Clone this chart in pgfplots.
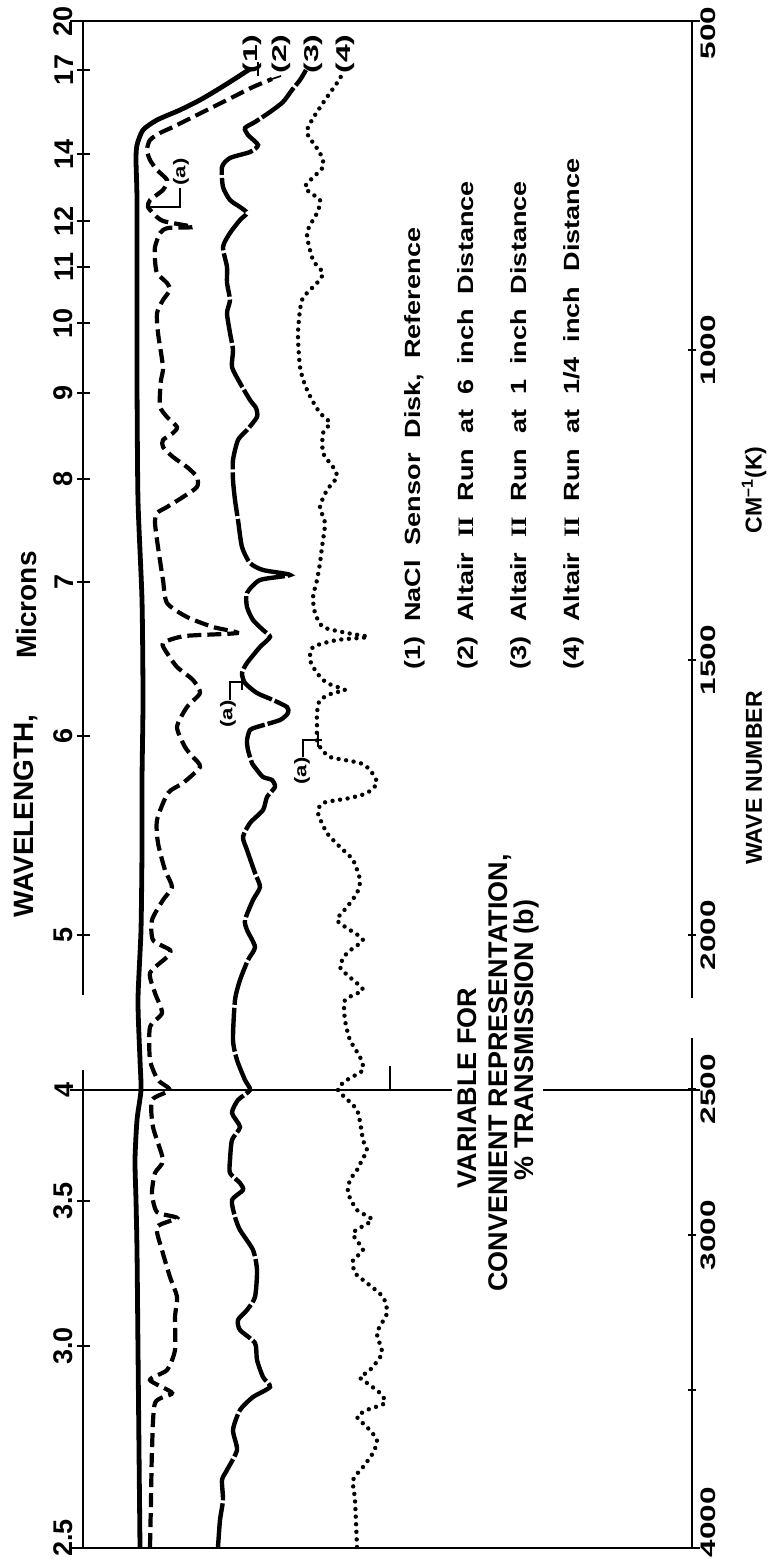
\documentclass[border=0pt]{standalone}
\usepackage{pgfplots}
\pgfplotsset{compat=1.18}
\usepackage{fontspec}
\setmainfont{Liberation Sans}
\newfontfamily\romanII{Liberation Serif}
\newcommand\wide[2][1.5]{\scalebox{#1}[1]{#2}}
\newcommand\II{{\romanII\bfseries II}}
\newcommand\lf[1]{\fontsize{#1}{#1}\selectfont\bfseries}
\begin{document}
\begin{tikzpicture}
% vertical coordinate = position along the (rotated) wavelength/wave-number scale
\pgfplotsset{base/.style={x=0.5pt,y=0.5pt,y dir=reverse,
  xmin=83,xmax=692,ymin=21,ymax=1548,clip=false,
  axis line style={draw=none},xtick=\empty,
  tick align=outside,major tick length=6.5pt,
  every tick/.style={black,line width=1pt}}}
\begin{axis}[base,axis x line=none,axis y line=left,
  ytick={21,70,154,221,267,323,393,479,582,736,935,1090,1201,1346,1548},
  yticklabels={20,17,14,12,11,10,9,8,7,6,5,4,3.5,3.0,\hspace*{10pt}2.5},
  yticklabel style={font=\lf{13.5},rotate=90,anchor=south,inner sep=1.5pt}]
% (1) NaCl reference
\addplot[black,line width=2.4pt,smooth,tension=0.4] table {
140 1547
139 1450
138 1350
137 1250
136 1200
135 1160
137 1120
141 1090
140 1060
138 1000
141 930
142 850
142 780
143 700
142 600
138 500
137 380
137 300
137 200
136 160
137 145
143 130
157 120
180 110
200 100
217 90
233 80
250 69
};
% (2) 6 inch
\addplot[black,line width=2.1pt,dash pattern=on 7pt off 3pt,smooth,tension=0.4] table {
150 1547
151 1500
152 1450
155 1403
172 1393
150 1380
167 1370
175 1350
175 1317
177 1297
170 1277
162 1250
157 1227
177 1218
157 1212
152 1193
155 1173
163 1160
153 1127
152 1100
170 1090
158 1080
150 1060
150 1027
162 1013
155 993
150 973
167 957
170 950
153 940
152 920
163 900
172 887
165 870
158 843
157 820
168 793
183 783
200 767
193 757
185 747
177 727
187 707
200 693
193 680
177 667
167 653
163 643
185 636
237 633
213 627
187 617
167 603
163 580
158 547
155 523
157 513
167 507
183 497
197 487
197 477
187 467
173 457
163 447
163 440
173 433
177 427
167 417
160 407
160 393
161 380
163 367
158 333
157 313
163 300
170 290
167 283
157 273
155 260
155 247
160 233
168 228
193 227
163 221
153 213
148 207
150 200
163 190
167 180
157 170
150 160
147 150
150 140
160 133
173 127
193 117
213 107
233 97
253 87
272 79
};
% (3) 1 inch
\addplot[black,line width=2.2pt,dash pattern=on 22pt off 1.5pt,smooth,tension=0.4] table {
218 1547
220 1520
223 1500
222 1480
227 1470
237 1450
233 1430
240 1410
253 1397
270 1387
263 1377
257 1360
255 1343
240 1330
238 1320
247 1310
255 1297
257 1270
253 1250
240 1230
235 1217
232 1200
243 1190
240 1183
230 1173
230 1160
232 1140
240 1127
232 1113
238 1100
250 1090
245 1080
237 1060
233 1040
235 1000
240 980
248 960
255 947
247 930
245 920
253 900
260 887
255 873
247 850
243 837
250 823
263 810
267 797
275 787
272 780
263 777
257 770
252 763
248 750
247 740
250 730
257 727
280 720
288 713
287 707
273 700
257 693
245 683
242 673
247 663
260 647
270 637
263 630
253 620
247 607
247 593
260 580
290 575
263 570
250 563
242 547
238 520
235 500
233 480
233 460
238 440
247 430
257 417
256 408
250 400
240 383
232 367
233 350
230 333
227 313
230 300
227 283
227 267
223 247
230 233
240 220
247 213
240 207
230 200
223 187
222 167
230 158
250 152
258 145
248 135
245 128
255 122
270 112
283 102
292 90
300 80
306 70
};
% (4) 1/4 inch
\addplot[black,line width=2.2pt,line cap=round,dash pattern=on 0pt off 3.8pt,smooth,tension=0.4] table {
357 1547
355 1500
353 1480
363 1467
373 1453
377 1440
367 1427
357 1417
367 1410
385 1403
380 1393
363 1380
360 1377
370 1370
382 1353
377 1333
387 1313
383 1297
367 1283
355 1273
353 1260
363 1250
353 1233
372 1220
357 1210
348 1193
350 1180
357 1170
362 1160
367 1150
363 1140
357 1110
338 1090
347 1080
363 1070
360 1057
350 1040
345 1020
345 1000
363 990
353 980
340 967
347 953
363 940
350 930
337 920
347 907
357 893
360 880
353 860
340 847
327 833
318 813
323 803
350 798
367 793
377 783
370 770
360 763
330 757
320 747
317 740
317 727
317 713
320 700
333 693
345 690
327 683
317 673
310 660
313 647
337 640
368 637
347 633
323 627
315 613
313 597
317 580
320 563
322 547
325 523
320 507
327 490
337 477
333 467
323 453
323 433
330 423
320 413
312 400
305 385
300 367
298 333
302 300
317 283
323 273
313 260
307 233
317 213
320 200
305 187
323 167
320 153
307 133
312 120
325 100
337 83
343 73
};
% frame
\draw[line width=1pt] (axis cs:70,21) -- (axis cs:700,21);
\draw[line width=1pt] (axis cs:70,1548) -- (axis cs:700,1548);
\draw[line width=1pt] (axis cs:83,21) -- (axis cs:83,995);
\draw[line width=1pt] (axis cs:83,1070) -- (axis cs:83,1548);
\draw[line width=1pt] (axis cs:692,21) -- (axis cs:692,998);
\draw[line width=1pt] (axis cs:692,1038) -- (axis cs:692,1548);
\draw[line width=1pt] (axis cs:70,1090) -- (axis cs:452,1090);
\draw[line width=1pt] (axis cs:543,1090) -- (axis cs:700,1090);
\draw[line width=1pt] (axis cs:390,1066) -- (axis cs:390,1090);
% label connectors
\draw[line width=0.8pt] (axis cs:250,69) -- (axis cs:258,69);
\draw[line width=0.8pt] (axis cs:258,62) -- (axis cs:258,76);
\draw[line width=0.8pt] (axis cs:272,79) -- (axis cs:281,76);
% (a) markers
\draw[line width=0.8pt] (axis cs:180,188) -- (axis cs:180,207) -- (axis cs:147,207);
\node[rotate=90,font=\lf{8.5}] at (axis cs:181,172) {\wide[1.3]{(a)}};
\draw[line width=0.8pt] (axis cs:230,700) -- (axis cs:230,682) -- (axis cs:244,682);
\draw[line width=0.8pt] (axis cs:242,673) -- (axis cs:242,690);
\node[rotate=90,font=\lf{8.5}] at (axis cs:228,714) {\wide[1.3]{(a)}};
\draw[line width=0.8pt] (axis cs:303,757) -- (axis cs:303,740) -- (axis cs:322,740);
\draw[line width=0.8pt] (axis cs:318,733) -- (axis cs:318,747);
\node[rotate=90,font=\lf{8.5}] at (axis cs:302,771) {\wide[1.3]{(a)}};
% curve labels
\node[rotate=90,font=\lf{10}] at (axis cs:252,54) {\wide[1.6]{(1)}};
\node[rotate=90,font=\lf{10}] at (axis cs:281,54) {\wide[1.6]{(2)}};
\node[rotate=90,font=\lf{10}] at (axis cs:313,54) {\wide[1.6]{(3)}};
\node[rotate=90,font=\lf{10}] at (axis cs:345,54) {\wide[1.6]{(4)}};
% legend text
\node[rotate=90,anchor=west,font=\lf{11}] at (axis cs:415,677) {\wide[1.23]{(1) \ NaCl \ Sensor \ Disk, \ Reference}};
\node[rotate=90,anchor=west,font=\lf{11}] at (axis cs:468,677) {\wide[1.23]{(2) \ Altair \ \II\ \ Run \ at \ 6 \ inch \ Distance}};
\node[rotate=90,anchor=west,font=\lf{11}] at (axis cs:521,677) {\wide[1.23]{(3) \ Altair \ \II\ \ Run \ at \ 1 \ inch \ Distance}};
\node[rotate=90,anchor=west,font=\lf{11}] at (axis cs:574,677) {\wide[1.23]{(4) \ Altair \ \II\ \ Run \ at \ 1/4 \ inch \ Distance}};
% middle caption
\node[rotate=90,font=\lf{13.5}] at (axis cs:467,1088) {VARIABLE FOR};
\node[rotate=90,font=\lf{13.5}] at (axis cs:500,1073) {CONVENIENT REPRESENTATION,};
\node[rotate=90,font=\lf{13.5}] at (axis cs:527,1040) {\% TRANSMISSION (b)};
% axis titles
\node[rotate=90,font=\lf{14}] at (axis cs:26,816) {WAVELENGTH,};
\node[rotate=90,font=\lf{14}] at (axis cs:26,605) {Microns};
\node[rotate=90,font=\lf{11.5}] at (axis cs:754,778) {WAVE NUMBER};
\node[rotate=90,font=\lf{11.5}] at (axis cs:754,490) {CM\textsuperscript{--1}(K)};
\coordinate (BL) at (axis cs:0,1562);
\coordinate (TR) at (axis cs:768,0);
\end{axis}
\begin{axis}[base,axis x line=none,axis y line=right,
  major tick length=4pt,
  ytick={21,350,660,935,1089,1235,1390,1548},
  yticklabels={\wide[1.5]{500}\hspace*{12pt},\wide[1.5]{1000},\wide[1.5]{1500},\wide[1.5]{2000},\wide[1.5]{2500},\wide[1.5]{3000},{},\hspace*{26pt}\wide[1.5]{4000}},
  yticklabel style={font=\lf{10.5},rotate=90,anchor=north,inner sep=2pt}]
\end{axis}
\pgfresetboundingbox
\path[use as bounding box] (BL) rectangle (TR);
\end{tikzpicture}
\end{document}
